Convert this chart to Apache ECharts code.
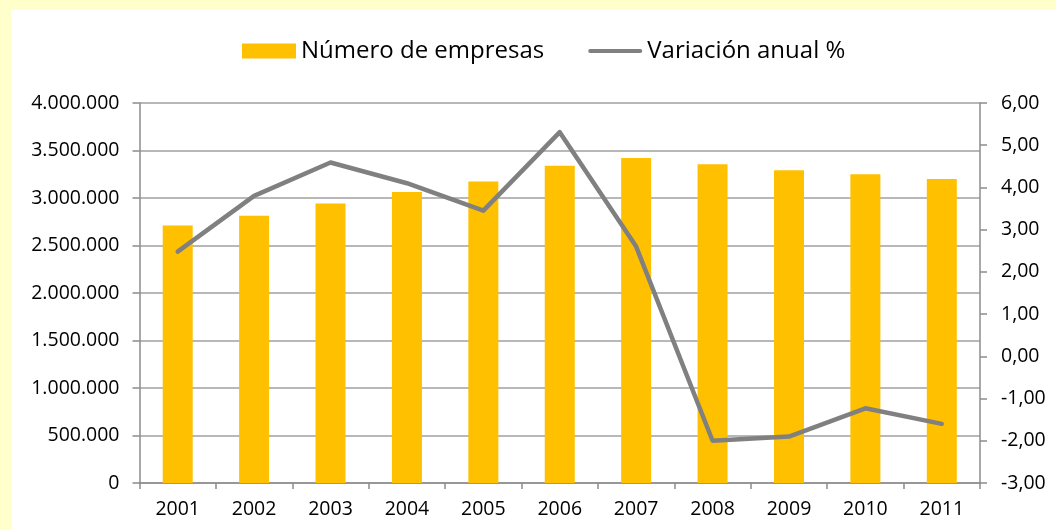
<!DOCTYPE html>
<html>
<head>
<meta charset="utf-8">
<script src="https://cdn.jsdelivr.net/npm/echarts@6/dist/echarts.min.js"></script>
<style>
html,body{margin:0;padding:0;background:#FFFFCC;width:1056px;height:530px;overflow:hidden;}
#c{position:absolute;left:0;top:0;width:1056px;height:530px;}
</style>
</head>
<body>
<div id="c"></div>
<script>
var categories = ['2001','2002','2003','2004','2005','2006','2007','2008','2009','2010','2011'];
var empresas = [2710400, 2813159, 2942583, 3064129, 3174393, 3339783, 3422239, 3355830, 3291263, 3250576, 3199617];
var variacion = [2.48, 3.80, 4.59, 4.10, 3.45, 5.31, 2.60, -2.00, -1.90, -1.23, -1.60];
var seriesNames = ['Número de empresas', 'Variación anual %'];

function fmtThousands(v){
  return String(Math.round(v)).replace(/\B(?=(\d{3})+(?!\d))/g, '.');
}
function fmtPct(v){
  return v.toFixed(2).replace('.', ',');
}

var chart = echarts.init(document.getElementById('c'));
var font = 'Open Sans';
var axisGray = '#8c8c8c';
var labelSize = 19.5;
chart.setOption({
  backgroundColor: '#FFFFCC',
  animation: false,
  textStyle: {fontFamily: font},
  graphic: [{
    type: 'rect',
    left: 11, top: 10, z: -10, silent: true,
    shape: {width: 1045, height: 520},
    style: {fill: '#ffffff'}
  }],
  legend: {
    top: 34,
    left: 237,
    itemGap: 44,
    textStyle: {fontFamily: font, fontSize: 24, color: '#000'},
    data: [
      {name: seriesNames[0], icon: 'rect'},
      {name: seriesNames[1], icon: 'path://M2,0 L54,0 A2,2 0 0 1 54,4 L2,4 A2,2 0 0 1 2,0 Z', itemStyle: {color: '#808080', borderWidth: 0}}
    ],
    itemWidth: 54,
    itemHeight: 15
  },
  grid: {left: 139.5, right: 76, top: 103, bottom: 47, containLabel: false, outerBoundsMode: 'none'},
  xAxis: [{
    type: 'category',
    data: categories,
    boundaryGap: true,
    axisLine: {lineStyle: {color: axisGray, width: 1.5}},
    axisTick: {show: true, length: 6, lineStyle: {color: axisGray, width: 1.5}},
    axisLabel: {color: '#000', fontSize: labelSize, fontFamily: font, margin: 16},
    splitLine: {show: false}
  }, {
    type: 'category',
    data: categories,
    position: 'bottom',
    boundaryGap: true,
    axisLine: {show: false},
    axisTick: {show: true, alignWithLabel: true, length: 3, lineStyle: {color: axisGray, width: 1.5}},
    axisLabel: {show: false},
    splitLine: {show: false}
  }],
  yAxis: [{
    type: 'value',
    min: 0, max: 4000000, interval: 500000,
    axisLine: {show: true, lineStyle: {color: axisGray, width: 1.5}},
    axisTick: {show: true, length: 7, lineStyle: {color: axisGray, width: 1.5}},
    axisLabel: {color: '#000', fontSize: labelSize, fontFamily: font, margin: 20, formatter: fmtThousands},
    splitLine: {show: true, lineStyle: {color: '#a0a0a0', width: 1.5}}
  }, {
    type: 'value',
    min: -3, max: 6, interval: 1,
    position: 'right',
    axisLine: {show: true, lineStyle: {color: axisGray, width: 1.5}},
    axisTick: {show: true, length: 7, lineStyle: {color: axisGray, width: 1.5}},
    axisLabel: {color: '#000', fontSize: labelSize, fontFamily: font, margin: 21, formatter: fmtPct},
    splitLine: {show: false}
  }],
  series: [{
    name: seriesNames[0],
    type: 'bar',
    data: empresas,
    barWidth: 30,
    itemStyle: {color: '#FFC000'},
    z: 2
  }, {
    name: seriesNames[1],
    type: 'line',
    yAxisIndex: 1,
    data: variacion,
    symbol: 'none',
    lineStyle: {color: '#808080', width: 4.5, cap: 'round', join: 'round'},
    itemStyle: {color: '#808080'},
    z: 3
  }]
});
</script>
</body>
</html>
